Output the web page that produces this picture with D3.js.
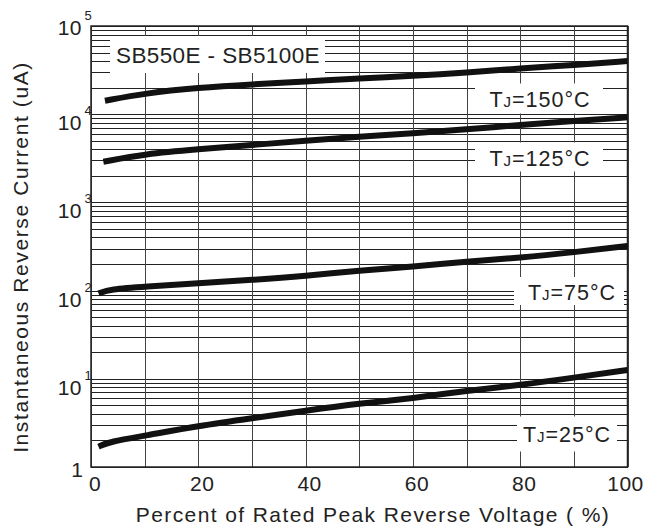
<!DOCTYPE html>
<html>
<head>
<meta charset="utf-8">
<script src="https://cdn.jsdelivr.net/npm/d3@7"></script>
<style>
  body { margin: 0; background: #fff; }
  svg { display: block; font-family: "Liberation Sans", Arial, sans-serif; }
</style>
</head>
<body>
<div id="container"></div>
<script>
const { d3 } = window;

// percent of rated peak reverse voltage
const pct150 = [2.6, 10, 20, 30, 40, 50, 60, 70, 80, 90, 100];
const cur150 = [14200, 17260, 19950, 21800, 23400, 25500, 27100, 29550, 33150, 36100, 40100];
const pct125 = [2.3, 10, 20, 30, 40, 50, 60, 70, 80, 90, 100];
const cur125 = [2890, 3540, 4000, 4475, 5010, 5560, 6075, 6745, 7545, 8375, 9225];
const pct75 = [1.4, 3.5, 10, 20, 30, 40, 50, 60, 70, 80, 90, 100];
const cur75 = [93, 103.5, 111, 121, 132, 146.5, 169, 187, 213, 236, 272, 320];
const pct25 = [1.4, 3.5, 10, 20, 30, 40, 50, 60, 70, 80, 90, 100];
const cur25 = [1.7, 1.94, 2.26, 2.92, 3.57, 4.35, 5.25, 6.01, 7.33, 8.5, 10.3, 12.6];

const xTicks = [0, 20, 40, 60, 80, 100];
const yDecades = [0, 1, 2, 3, 4, 5];
const seriesNames = ['150', '125', '75', '25'];
const title = 'SB550E - SB5100E';

const W = 663;
const H = 527;
const x = d3.scaleLinear().domain([0, 100]).range([91, 627.5]);
const y = d3.scaleLog().domain([1, 1e5]).range([467, 26]);

const svg = d3.select('#container').append('svg')
  .attr('width', W)
  .attr('height', H);

// grid
const minor = [];
for (let d = 0; d < 5; d += 1) {
  for (let m = 2; m <= 9; m += 1) minor.push(m * 10 ** d);
}
const grid = svg.append('g').attr('shape-rendering', 'crispEdges');
grid.selectAll('line.h').data(minor.concat(yDecades.map((d) => 10 ** d)))
  .join('line')
  .attr('class', 'h')
  .attr('x1', x(0)).attr('x2', x(100))
  .attr('y1', (d) => Math.round(y(d)) + 0.5)
  .attr('y2', (d) => Math.round(y(d)) + 0.5)
  .attr('stroke', '#222')
  .attr('stroke-width', 1);
grid.selectAll('line.v').data(d3.range(0, 101, 10))
  .join('line')
  .attr('class', 'v')
  .attr('x1', (d) => Math.round(x(d)) + 0.5)
  .attr('x2', (d) => Math.round(x(d)) + 0.5)
  .attr('y1', y(1e5)).attr('y2', y(1))
  .attr('stroke', '#444')
  .attr('stroke-width', 1);

// label boxes (white, hide grid)
function box(cx, cy, w, h) {
  svg.append('rect')
    .attr('x', cx - w / 2).attr('y', cy - h / 2)
    .attr('width', w).attr('height', h)
    .attr('fill', '#fff');
}
box(217.5, 54.5, 215, 37);
box(539, 98.5, 128, 30);
box(539, 157, 128, 29);
box(569, 291, 110, 28);
box(567, 434, 100, 35);

// frame
svg.append('rect')
  .attr('x', x(0)).attr('y', y(1e5))
  .attr('width', x(100) - x(0)).attr('height', y(1) - y(1e5))
  .attr('fill', 'none')
  .attr('stroke', '#222')
  .attr('stroke-width', 1.5);

// curves
const line = d3.line()
  .x((d) => x(d[0]))
  .y((d) => y(d[1]))
  .curve(d3.curveBasis);
const series = [
  d3.zip(pct150, cur150),
  d3.zip(pct125, cur125),
  d3.zip(pct75, cur75),
  d3.zip(pct25, cur25),
];
svg.selectAll('path.curve').data(series)
  .join('path')
  .attr('class', 'curve')
  .attr('d', line)
  .attr('fill', 'none')
  .attr('stroke', '#111')
  .attr('stroke-width', 6);

// texts
svg.append('text')
  .attr('x', 218).attr('y', 63)
  .attr('text-anchor', 'middle')
  .attr('font-size', 22.5)
  .attr('letter-spacing', 0.4)
  .attr('fill', '#222')
  .text(title);

const tjPos = [[540, 107], [540, 165.5], [572, 299.5], [567, 442]];
seriesNames.forEach((name, i) => {
  const t = svg.append('text')
    .attr('x', tjPos[i][0]).attr('y', tjPos[i][1])
    .attr('text-anchor', 'middle')
    .attr('font-size', 21.5)
    .attr('letter-spacing', 1)
    .attr('fill', '#222');
  t.append('tspan').text('T');
  t.append('tspan').attr('font-size', 15).text('J');
  t.append('tspan').text(`=${name}°C`);
});

// x tick labels
svg.selectAll('text.xt').data(xTicks)
  .join('text')
  .attr('class', 'xt')
  .attr('x', (d) => x(d) + (d === 100 ? -2 : 4))
  .attr('y', 491)
  .attr('text-anchor', 'middle')
  .attr('font-size', 21)
  .attr('letter-spacing', 0.5)
  .attr('fill', '#222')
  .text((d) => d);

// y tick labels
yDecades.forEach((d) => {
  const yy = y(10 ** d);
  if (d === 0) {
    svg.append('text')
      .attr('x', 83).attr('y', yy + 10)
      .attr('text-anchor', 'end')
      .attr('font-size', 21)
      .attr('fill', '#222')
      .text('1');
    return;
  }
  const base = yy + (d === 5 ? 9 : 16);
  svg.append('text')
    .attr('x', 82).attr('y', base)
    .attr('text-anchor', 'end')
    .attr('font-size', 21)
    .attr('letter-spacing', 0.5)
    .attr('fill', '#222')
    .text('10');
  svg.append('text')
    .attr('x', 84.5).attr('y', base - 15)
    .attr('font-size', 13)
    .attr('fill', '#222')
    .text(d);
});

// axis titles
svg.append('text')
  .attr('x', 373).attr('y', 522)
  .attr('text-anchor', 'middle')
  .attr('font-size', 21)
  .attr('letter-spacing', 1.4)
  .attr('fill', '#222')
  .text('Percent of Rated Peak Reverse Voltage ( %)');

svg.append('text')
  .attr('transform', 'translate(28, 257) rotate(-90)')
  .attr('text-anchor', 'middle')
  .attr('font-size', 21)
  .attr('letter-spacing', 1.6)
  .attr('fill', '#222')
  .text('Instantaneous Reverse Current (uA)');
</script>
</body>
</html>
